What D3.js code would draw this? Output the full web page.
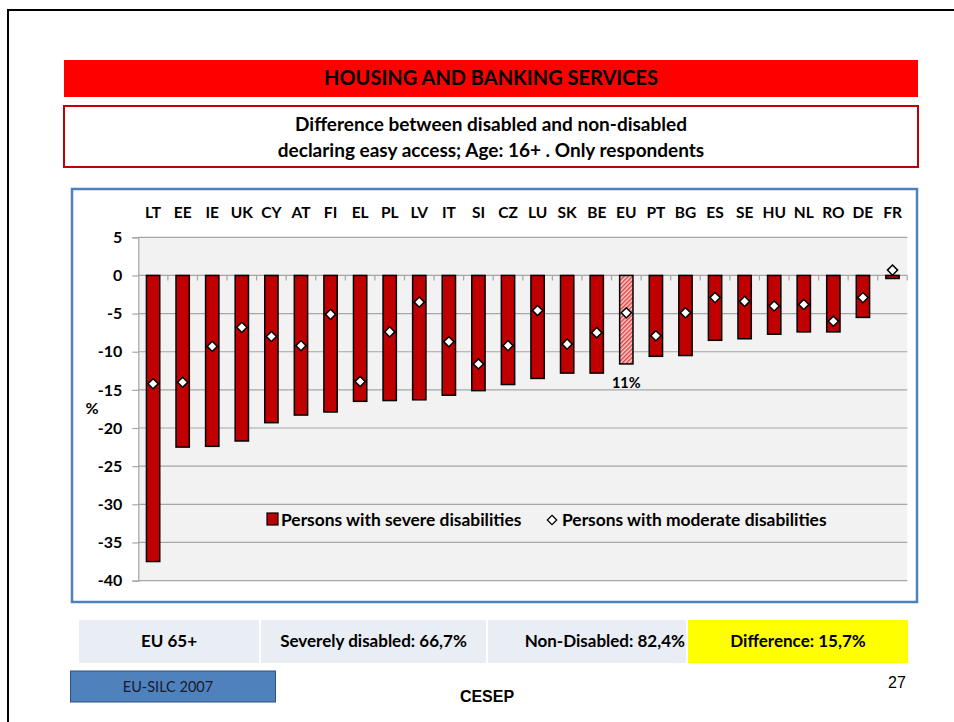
<!DOCTYPE html>
<html><head><meta charset="utf-8">
<script src="https://cdn.jsdelivr.net/npm/d3@7"></script>
<style>
body{margin:0;background:#fff;}
svg{display:block;}
</style></head>
<body>
<svg id="c" width="954" height="722"></svg>
<script>
const categories = ["LT","EE","IE","UK","CY","AT","FI","EL","PL","LV","IT","SI","CZ","LU","SK","BE","EU","PT","BG","ES","SE","HU","NL","RO","DE","FR"];
const severe = [-37.5,-22.5,-22.4,-21.7,-19.3,-18.3,-17.9,-16.5,-16.4,-16.3,-15.7,-15.1,-14.3,-13.5,-12.8,-12.8,-11.6,-10.6,-10.5,-8.5,-8.3,-7.7,-7.4,-7.4,-5.5,-0.4];
const moderate = [-14.2,-14.0,-9.3,-6.8,-8.0,-9.2,-5.1,-13.9,-7.4,-3.5,-8.7,-11.6,-9.2,-4.6,-9.0,-7.5,-4.9,-7.9,-4.9,-2.9,-3.4,-4.0,-3.8,-6.0,-2.9,0.7];
const yTicks = [5,0,-5,-10,-15,-20,-25,-30,-35,-40];
const seriesNames = ["Persons with severe disabilities","Persons with moderate disabilities"];
const highlight = "EU";
const highlightLabel = "11%";
const bottomCells = ["EU 65+","Severely disabled: 66,7%","Non-Disabled: 82,4%","Difference: 15,7%"];

const svg = d3.select("#c");
const F = "Lato, 'Open Sans', sans-serif";

// slide frame
svg.append("path").attr("d","M8,722 V10 H954").attr("fill","none").attr("stroke","#000").attr("stroke-width",2);

// title banner
svg.append("rect").attr("x",64).attr("y",60).attr("width",854).attr("height",37).attr("fill","#ff0000");
svg.append("text").attr("x",491).attr("y",85).attr("text-anchor","middle").attr("font-family",F)
  .attr("font-weight","bold").attr("font-size",20).text("HOUSING AND BANKING SERVICES");
// subtitle box
svg.append("rect").attr("x",64).attr("y",106).attr("width",854).attr("height",61).attr("fill","#fff")
  .attr("stroke","#c00000").attr("stroke-width",2);
svg.append("text").attr("x",491).attr("y",131).attr("text-anchor","middle").attr("font-family",F)
  .attr("font-weight","bold").attr("font-size",19).text("Difference between disabled and non-disabled");
svg.append("text").attr("x",491).attr("y",157).attr("text-anchor","middle").attr("font-family",F)
  .attr("font-weight","bold").attr("font-size",19).text("declaring easy access; Age: 16+ . Only respondents");

// chart frame
svg.append("rect").attr("x",72).attr("y",189).attr("width",845).attr("height",413).attr("fill","#fff")
  .attr("stroke","#4f81bd").attr("stroke-width",2.5);

const L=138.3, R=907.3;
const x = d3.scaleBand().domain(categories).range([L,R]).paddingInner(0.55).paddingOuter(0.275);
const xb = d3.scaleBand().domain(categories).range([L,R]);
const y = d3.scaleLinear().domain([-40,5]).range([580.6,237.3]);

// pattern
const defs = svg.append("defs");
const pat = defs.append("pattern").attr("id","hatch").attr("patternUnits","userSpaceOnUse")
  .attr("width",3).attr("height",3).attr("patternTransform","rotate(45)");
pat.append("rect").attr("width",3).attr("height",3).attr("fill","#fbd4d4");
pat.append("rect").attr("width",1.5).attr("height",3).attr("fill","#e04040");

// plot bg
svg.append("rect").attr("x",L).attr("y",y(5)).attr("width",R-L).attr("height",y(-40)-y(5)).attr("fill","#f2f2f2");

// grid
svg.append("g").selectAll("line").data(yTicks).join("line")
  .attr("x1",L).attr("x2",R).attr("y1",d=>y(d)).attr("y2",d=>y(d))
  .attr("stroke","#a6a6a6").attr("stroke-width",1.2);

// y axis
const ya = svg.append("g").attr("transform",`translate(${L},0)`)
  .call(d3.axisLeft(y).tickValues(yTicks).tickSize(6).tickPadding(10).tickFormat(d=>String(d)));
ya.select(".domain").attr("stroke","#a6a6a6").attr("stroke-width",1.2);
ya.selectAll(".tick line").attr("stroke","#a6a6a6").attr("stroke-width",1.2);
ya.selectAll("text").attr("font-family",F).attr("font-weight","bold").attr("font-size",16).attr("fill","#000");
svg.append("text").attr("x",92).attr("y",414).attr("text-anchor","middle").attr("font-family",F)
  .attr("font-weight","bold").attr("font-size",16).text("%");

// category ticks at zero
svg.append("g").selectAll("line").data(categories).join("line")
  .attr("x1",(d,i)=>L+xb.bandwidth()*(i+1)).attr("x2",(d,i)=>L+xb.bandwidth()*(i+1))
  .attr("y1",y(0)).attr("y2",y(0)+5).attr("stroke","#a6a6a6").attr("stroke-width",1.2);

// category labels at top
svg.append("g").selectAll("text").data(categories).join("text")
  .attr("x",d=>xb(d)+xb.bandwidth()/2).attr("y",218).attr("text-anchor","middle")
  .attr("font-family",F).attr("font-weight","bold").attr("font-size",15.5).text(d=>d);

// bars
svg.append("g").selectAll("rect").data(categories).join("rect")
  .attr("x",d=>x(d)).attr("width",x.bandwidth())
  .attr("y",(d,i)=>y(Math.max(0,severe[i]))).attr("height",(d,i)=>Math.abs(y(severe[i])-y(0)))
  .attr("fill",d=>d===highlight?"url(#hatch)":"#c00000").attr("stroke","#000").attr("stroke-width",1.5);

// highlight label
const hi = categories.indexOf(highlight);
svg.append("text").attr("x",xb(highlight)+xb.bandwidth()/2).attr("y",y(severe[hi])+24).attr("text-anchor","middle")
  .attr("font-family",F).attr("font-weight","bold").attr("font-size",14.5).text(highlightLabel);

// diamonds
const dsym = d3.symbol().type(d3.symbolDiamond2).size(66);
svg.append("g").selectAll("path").data(categories).join("path")
  .attr("transform",(d,i)=>`translate(${xb(d)+xb.bandwidth()/2},${y(moderate[i])})`)
  .attr("d",dsym).attr("fill","#fff").attr("stroke","#000").attr("stroke-width",1.5);

// legend
const lg = svg.append("g");
lg.append("rect").attr("x",267).attr("y",513).attr("width",11).attr("height",12).attr("fill","#c00000").attr("stroke","#000").attr("stroke-width",1.2);
lg.append("text").attr("x",281).attr("y",526).attr("font-family",F).attr("font-weight","bold").attr("font-size",17.4).text(seriesNames[0]);
lg.append("path").attr("transform","translate(552,520)").attr("d",d3.symbol().type(d3.symbolDiamond2).size(56)).attr("fill","#fff").attr("stroke","#000").attr("stroke-width",1.3);
lg.append("text").attr("x",562).attr("y",526).attr("font-family",F).attr("font-weight","bold").attr("font-size",17.4).text(seriesNames[1]);

// bottom table
const cellX=[79,261,488,688], cellW=[180,225,198,220];
const cellFill=["#e9edf4","#e9edf4","#e9edf4","#ffff00"];
bottomCells.forEach((t,i)=>{
  svg.append("rect").attr("x",cellX[i]).attr("y",620).attr("width",cellW[i]).attr("height",43).attr("fill",cellFill[i]);
  svg.append("text").attr("x",i==2?cellX[i]+cellW[i]-1:cellX[i]+cellW[i]/2).attr("y",647)
    .attr("text-anchor",i==2?"end":"middle").attr("font-family",F).attr("font-weight","bold").attr("font-size",17).text(t);
});

// footer
svg.append("rect").attr("x",70.5).attr("y",671).attr("width",205).attr("height",31).attr("fill","#4f81bd").attr("stroke","#2f4f7f").attr("stroke-width",1);
svg.append("text").attr("x",168).attr("y",692).attr("text-anchor","middle").attr("font-family",F).attr("font-size",14.5).attr("fill","#1a1a2a").text("EU-SILC 2007");
svg.append("text").attr("x",487).attr("y",702).attr("text-anchor","middle").attr("font-family","'Liberation Sans', Arial, sans-serif").attr("font-weight","bold").attr("font-size",16).text("CESEP");
svg.append("text").attr("x",897).attr("y",688).attr("text-anchor","middle").attr("font-family","'Liberation Sans', Arial, sans-serif").attr("font-size",16).text("27");
</script>
</body></html>
